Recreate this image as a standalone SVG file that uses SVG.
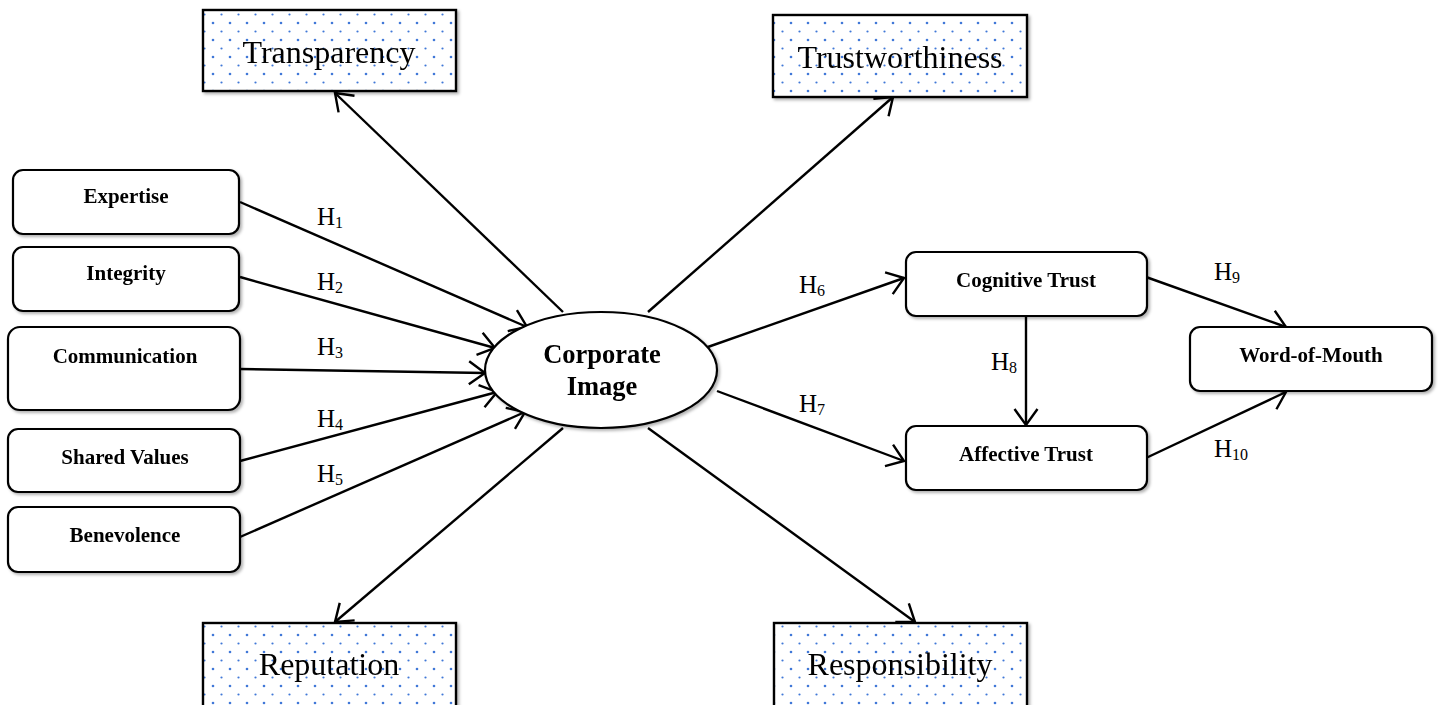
<svg xmlns="http://www.w3.org/2000/svg" width="1443" height="705" viewBox="0 0 1443 705">
<style>
.box{fill:#fff;stroke:#000;stroke-width:2.2}
.dot{fill:url(#dots);stroke:#000;stroke-width:2.4}
.lbl{font-family:"Liberation Serif","Times New Roman",serif;font-weight:bold;font-size:21px;text-anchor:middle;fill:#000}
.big{font-family:"Liberation Serif","Times New Roman",serif;font-size:32px;text-anchor:middle;fill:#000}
.ci{font-family:"Liberation Serif","Times New Roman",serif;font-weight:bold;font-size:26.5px;text-anchor:middle;fill:#000}
.h{font-family:"Liberation Serif","Times New Roman",serif;font-size:25px;fill:#000}
.sub{font-size:16px}
.con line{stroke:#000;stroke-width:2.4;fill:none;marker-end:url(#arr)}
</style>
<defs>
<pattern id="dots" patternUnits="userSpaceOnUse" width="17" height="17" x="4" y="2">
<rect width="17" height="17" fill="#fff"/>
<circle cx="5" cy="4" r="1.3" fill="#3f78d8"/>
<circle cx="13.5" cy="12.5" r="1.1" fill="#3f78d8"/>
</pattern>
<marker id="arr" markerUnits="userSpaceOnUse" markerWidth="22" markerHeight="28" refX="17" refY="13" orient="auto">
<path d="M1,1.5 L17,13 L1,24.5" fill="none" stroke="#000" stroke-width="2.4"/>
</marker>
<filter id="sh" x="-10%" y="-10%" width="130%" height="140%">
<feDropShadow dx="2" dy="2" stdDeviation="1.5" flood-color="#000" flood-opacity="0.3"/>
</filter>
</defs>
<rect width="1443" height="705" fill="#fff"/>

<g class="con">
<line x1="240" y1="202" x2="527" y2="327"/>
<line x1="240" y1="277" x2="495" y2="348"/>
<line x1="240" y1="369" x2="485" y2="373"/>
<line x1="240" y1="461" x2="497" y2="392"/>
<line x1="240" y1="537" x2="525" y2="412"/>
<line x1="563" y1="312" x2="335" y2="93"/>
<line x1="648" y1="312" x2="893" y2="97"/>
<line x1="563" y1="428" x2="335" y2="622"/>
<line x1="648" y1="428" x2="915" y2="622"/>
<line x1="705" y1="348" x2="904" y2="278"/>
<line x1="717" y1="391" x2="904" y2="461"/>
<line x1="1026" y1="316" x2="1026" y2="425"/>
<line x1="1146" y1="277" x2="1286" y2="327"/>
<line x1="1146" y1="458" x2="1286" y2="392"/>
</g>

<g id="transparency" filter="url(#sh)"><rect class="dot" x="203" y="10" width="253" height="81"/><text class="big" x="329" y="63">Transparency</text></g>
<g id="trustworthiness" filter="url(#sh)"><rect class="dot" x="773" y="15" width="254" height="82"/><text class="big" x="900" y="68">Trustworthiness</text></g>
<g id="reputation" filter="url(#sh)"><rect class="dot" x="203" y="623" width="253" height="84"/><text class="big" x="329" y="675">Reputation</text></g>
<g id="responsibility" filter="url(#sh)"><rect class="dot" x="774" y="623" width="253" height="84"/><text class="big" x="900" y="675">Responsibility</text></g>

<g id="expertise" filter="url(#sh)"><rect class="box" x="13" y="170" width="226" height="64" rx="10"/><text class="lbl" x="126" y="203">Expertise</text></g>
<g id="integrity" filter="url(#sh)"><rect class="box" x="13" y="247" width="226" height="64" rx="10"/><text class="lbl" x="126" y="280">Integrity</text></g>
<g id="communication" filter="url(#sh)"><rect class="box" x="8" y="327" width="232" height="83" rx="12"/><text class="lbl" x="125" y="363">Communication</text></g>
<g id="shared-values" filter="url(#sh)"><rect class="box" x="8" y="429" width="232" height="63" rx="10"/><text class="lbl" x="125" y="464">Shared Values</text></g>
<g id="benevolence" filter="url(#sh)"><rect class="box" x="8" y="507" width="232" height="65" rx="10"/><text class="lbl" x="125" y="542">Benevolence</text></g>

<g id="corporate-image" filter="url(#sh)"><ellipse class="box" cx="601" cy="370" rx="116" ry="58"/><text class="ci" x="602" y="363">Corporate</text><text class="ci" x="602" y="395">Image</text></g>

<g id="cognitive-trust" filter="url(#sh)"><rect class="box" x="906" y="252" width="241" height="64" rx="10"/><text class="lbl" x="1026" y="287">Cognitive Trust</text></g>
<g id="affective-trust" filter="url(#sh)"><rect class="box" x="906" y="426" width="241" height="64" rx="10"/><text class="lbl" x="1026" y="461">Affective Trust</text></g>
<g id="word-of-mouth" filter="url(#sh)"><rect class="box" x="1190" y="327" width="242" height="64" rx="10"/><text class="lbl" x="1311" y="362">Word-of-Mouth</text></g>

<g id="labels">
<text class="h" x="317" y="225">H<tspan class="sub" dy="3">1</tspan></text>
<text class="h" x="317" y="290">H<tspan class="sub" dy="3">2</tspan></text>
<text class="h" x="317" y="355">H<tspan class="sub" dy="3">3</tspan></text>
<text class="h" x="317" y="427">H<tspan class="sub" dy="3">4</tspan></text>
<text class="h" x="317" y="482">H<tspan class="sub" dy="3">5</tspan></text>
<text class="h" x="799" y="293">H<tspan class="sub" dy="3">6</tspan></text>
<text class="h" x="799" y="412">H<tspan class="sub" dy="3">7</tspan></text>
<text class="h" x="991" y="370">H<tspan class="sub" dy="3">8</tspan></text>
<text class="h" x="1214" y="280">H<tspan class="sub" dy="3">9</tspan></text>
<text class="h" x="1214" y="457">H<tspan class="sub" dy="3">10</tspan></text>
</g>
</svg>
